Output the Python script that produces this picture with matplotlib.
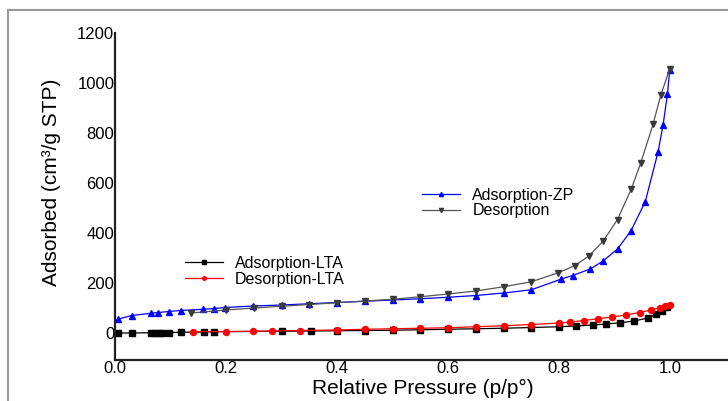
import matplotlib.pyplot as plt
from matplotlib.patches import Rectangle

plt.rcParams['font.family'] = ['Liberation Sans', 'DejaVu Sans']

# Adsorption-ZP
zp_ads_x = [0.005, 0.03, 0.065, 0.078, 0.097, 0.118, 0.159, 0.179, 0.199, 0.249, 0.30, 0.35, 0.40,
            0.45, 0.50, 0.55, 0.60, 0.65, 0.70, 0.75, 0.804, 0.824, 0.856, 0.879, 0.905, 0.929,
            0.955, 0.978, 0.987, 0.995, 0.999]
zp_ads_y = [55, 70, 79, 82, 86, 90, 95, 98, 102, 108, 112, 117, 122,
            127, 132, 137, 143, 150, 160, 173, 216, 230, 256, 288, 336, 408,
            525, 724, 831, 956, 1052]

# Desorption (ZP)
zp_des_x = [0.999, 0.983, 0.969, 0.947, 0.930, 0.905, 0.879, 0.854, 0.828, 0.797, 0.75, 0.70,
            0.65, 0.60, 0.55, 0.50, 0.45, 0.40, 0.35, 0.30, 0.25, 0.20, 0.137]
zp_des_y = [1056, 952, 835, 681, 577, 454, 367, 309, 269, 240, 205, 185,
            168, 156, 145, 135, 128, 121, 114, 107, 100, 92, 80]

# Adsorption-LTA
lta_ads_x = [0.005, 0.03, 0.065, 0.072, 0.079, 0.085, 0.098, 0.119, 0.161, 0.179, 0.30, 0.353,
             0.40, 0.45, 0.50, 0.55, 0.60, 0.65, 0.70, 0.75, 0.80, 0.83, 0.86, 0.885, 0.91,
             0.935, 0.96, 0.975, 0.985, 0.995]
lta_ads_y = [0, 0, 1, 1, 1, 2, 2, 3, 4, 5, 7, 8,
             9, 10, 11, 13, 15, 17, 19, 22, 25, 28, 32, 36, 41,
             48, 60, 75, 90, 105]

# Desorption-LTA
lta_des_x = [0.999, 0.99, 0.982, 0.965, 0.945, 0.92, 0.895, 0.87, 0.845, 0.82, 0.80, 0.75,
             0.70, 0.65, 0.60, 0.55, 0.50, 0.45, 0.40, 0.333, 0.282, 0.249, 0.20, 0.14]
lta_des_y = [112, 110, 102, 92, 82, 72, 64, 57, 50, 44, 40, 34,
             29, 25, 21, 19, 17, 15, 12, 10, 8, 7, 6, 5]

fig = plt.figure(figsize=(7.28, 4.01), dpi=100)
ax = fig.add_axes([115 / 728, (401 - 360) / 401, 1 - 115 / 728, (360 - 33) / 401])

l1, = ax.plot(zp_ads_x, zp_ads_y, color='#0000ff', lw=0.9, marker='^', ms=5,
              label='Adsorption-ZP')
l2, = ax.plot(zp_des_x, zp_des_y, color='#555555', lw=0.9, marker='v', ms=5,
              mfc='#3a3a3a', mec='#3a3a3a', label='Desorption')
l3, = ax.plot(lta_ads_x, lta_ads_y, color='black', lw=0.9, marker='s', ms=4,
              label='Adsorption-LTA')
l4, = ax.plot(lta_des_x, lta_des_y, color='#ff0000', lw=0.9, marker='o', ms=4.3,
              label='Desorption-LTA')

ax.set_xlim(0, 1.104)
ax.set_ylim(-108, 1200)
ax.set_xticks([0.0, 0.2, 0.4, 0.6, 0.8, 1.0])
ax.set_xticklabels(['0.0', '0.2', '0.4', '0.6', '0.8', '1.0'])
ax.set_yticks([0, 200, 400, 600, 800, 1000, 1200])
ax.tick_params(axis='both', length=0, labelsize=12, pad=0.5)
for s in ['top', 'right']:
    ax.spines[s].set_visible(False)
for s in ['left', 'bottom']:
    ax.spines[s].set_linewidth(1.6)
    ax.spines[s].set_color('#222222')

ax.set_xlabel('Relative Pressure (p/p°)', fontsize=15)
ax.xaxis.label.set_va('center')
ax.xaxis.set_label_coords(0.502, -0.086)
ax.set_ylabel('Adsorbed (cm³/g STP)', fontsize=15)
ax.yaxis.label.set_va('center')
ax.yaxis.set_label_coords(-0.104, 0.544)

leg_kw = dict(frameon=False, fontsize=11.5, handlelength=2.4, handletextpad=0.75,
              labelspacing=0.05, markerscale=0.6, borderpad=0, borderaxespad=0)
leg1 = ax.legend(handles=[l1, l2], loc='center left', bbox_to_anchor=(0.501, 0.480), **leg_kw)
ax.add_artist(leg1)
ax.legend(handles=[l3, l4], loc='center left', bbox_to_anchor=(0.114, 0.271), **leg_kw)

fig.patches.append(Rectangle((8 / 728, -0.1), 1.2, (401 - 10) / 401 + 0.1,
                             transform=fig.transFigure, fill=False,
                             edgecolor='#999999', lw=1.5))

fig.savefig('out.png', dpi=100)
